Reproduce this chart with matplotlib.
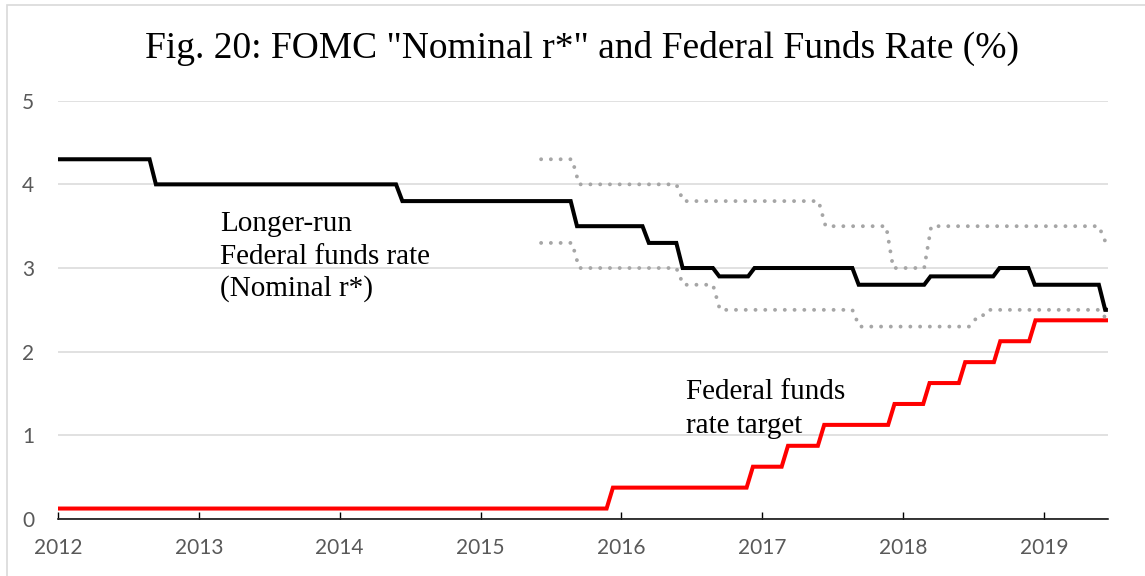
import matplotlib
matplotlib.use('Agg')
import matplotlib.pyplot as plt
from matplotlib.patches import Rectangle

# dates are fractional years, values in percent
years = [2012, 2013, 2014, 2015, 2016, 2017, 2018, 2019]

# longer-run fed funds rate (median), level changes
nominal_dates = [2012.65, 2014.40, 2015.64, 2016.15, 2016.39, 2016.65, 2016.90,
                 2017.64, 2018.15, 2018.64, 2018.89, 2019.39]
nominal_vals = [4.3, 4.0, 3.8, 3.5, 3.3, 3.0, 2.9, 3.0, 2.8, 2.9, 3.0, 2.8, 2.5]

# fed funds target (mid of range)
ffr_dates = [2015.895, 2016.889, 2017.138, 2017.395, 2017.894, 2018.143,
             2018.396, 2018.645, 2018.895]
ffr_vals = [0.125, 0.375, 0.625, 0.875, 1.125, 1.375, 1.625, 1.875, 2.125, 2.375]

# range of longer-run projections
upper_dates = [2015.65, 2016.39, 2017.40, 2017.88, 2018.15, 2019.39]
upper_vals = [4.3, 4.0, 3.8, 3.5, 3.0, 3.5, 3.3]
lower_dates = [2015.65, 2016.39, 2016.65, 2017.64, 2018.47, 2018.55, 2019.39]
lower_vals = [3.3, 3.0, 2.8, 2.5, 2.3, 2.4, 2.5, 2.4]

nominal_label = ['Longer-run', 'Federal funds rate', '(Nominal r*)']
ffr_label = ['Federal funds', 'rate target']


def steps(start, end, dates, vals, ramp=0.045):
    # step line with a short slope at every change
    xs = [start]
    ys = [vals[0]]
    for d, v0, v1 in zip(dates, vals[:-1], vals[1:]):
        xs += [d, d + ramp]
        ys += [v0, v1]
    xs.append(end)
    ys.append(vals[-1])
    return xs, ys


fig = plt.figure(figsize=(11.45, 5.76), dpi=100)
fig.patches.append(Rectangle((7 / 1145, -0.05), 1.2, 1.05 - 5 / 576, transform=fig.transFigure,
                             fill=False, edgecolor='#D9D9D9', lw=1.2))
ax = fig.add_axes([58 / 1145, 1 - 519 / 576, 1050 / 1145, (519 - 100.7) / 576])

x, y = steps(2012.01, 2019.44, nominal_dates, nominal_vals)
ax.plot(x, y, color='black', lw=2.9, solid_joinstyle='miter', zorder=3)
x, y = steps(2012.01, 2019.445, ffr_dates, ffr_vals)
ax.plot(x, y, color='#FF0000', lw=2.9, solid_joinstyle='miter', zorder=3)
for d, v in ((upper_dates, upper_vals), (lower_dates, lower_vals)):
    x, y = steps(2015.43, 2019.44, d, v, ramp=0.05)
    ax.plot(x, y, color='#A6A6A6', lw=2.8, linestyle=(0, (0.01, 2.5)),
            dash_capstyle='round', zorder=4)

ax.set_xlim(2012, 2019.455)
ax.set_ylim(0, 5)
ax.set_xticks(years)
ax.set_xticklabels([str(v) for v in years])
ax.set_yticks([0, 1, 2, 3, 4, 5])
ax.grid(axis='y', color='#D9D9D9', lw=1.1)
ax.set_axisbelow(True)
for s in ('top', 'right', 'left'):
    ax.spines[s].set_visible(False)
ax.spines['bottom'].set_color('black')
ax.spines['bottom'].set_linewidth(1.1)
ax.tick_params(axis='x', direction='in', length=5, width=1, color='black',
               pad=14, labelsize=15, labelcolor='#595959')
ax.tick_params(axis='y', length=0, pad=17, labelsize=15, labelcolor='#595959')
for lab in ax.get_xticklabels() + ax.get_yticklabels():
    lab.set_fontfamily('Lato')

serif = 'Liberation Serif'
fig.text(582 / 1145, 1 - 48 / 576, 'Fig. 20: FOMC "Nominal r*" and Federal Funds Rate (%)',
         ha='center', va='center', fontsize=27, family=serif)
for line, yv in zip(nominal_label, [3.443, 3.048, 2.666]):
    ax.text(2013.15, yv, line, ha='left', va='baseline', fontsize=21, family=serif)
for line, yv in zip(ffr_label, [1.434, 1.032]):
    ax.text(2016.458, yv, line, ha='left', va='baseline', fontsize=21, family=serif)

fig.savefig('out.png', dpi=100)
